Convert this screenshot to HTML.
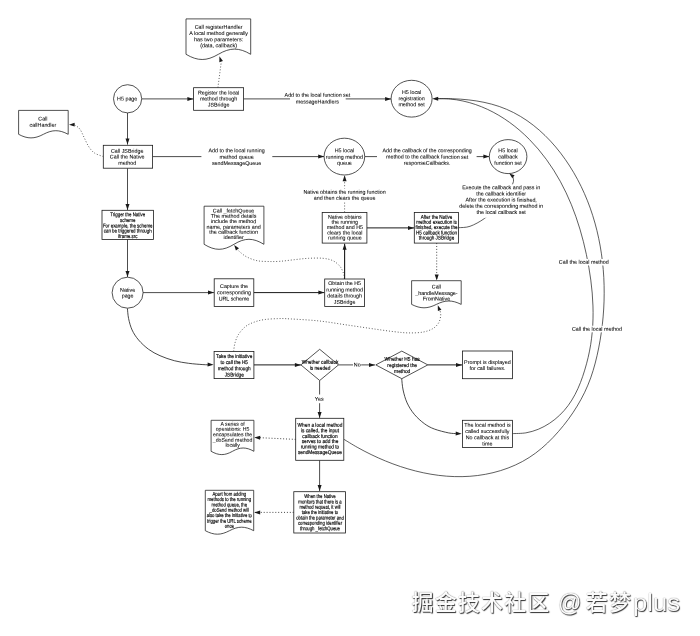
<!DOCTYPE html>
<html lang="en">
<head>
<meta charset="utf-8">
<title>JSBridge call flow</title>
<style>
html,body{margin:0;padding:0;background:#fff;}
body{width:700px;height:636px;overflow:hidden;position:relative;font-family:"Liberation Sans","Noto Sans CJK SC",sans-serif;}
svg{position:absolute;left:0;top:0;display:block;will-change:transform;filter:blur(0.25px);}
svg text{text-rendering:geometricPrecision;font-family:"Liberation Sans","Noto Sans CJK SC",sans-serif;}
.wm{will-change:transform;position:absolute;left:0;top:586.9px;width:700px;height:32px;font-size:22.0px;line-height:32px;white-space:nowrap;color:#fbfbfb;font-weight:500;
text-shadow:0 0 1px rgba(0,0,0,.6), 0.8px 0.8px 1px rgba(0,0,0,.8);}
.wm span{position:absolute;top:0;display:block;transform-origin:0 50%;}
</style>
</head>
<body>
<svg width="700" height="636" viewBox="0 0 700 636">
<path d="M512.60,433.60 C514.81,433.48 521.56,433.58 525.84,432.86 C530.12,432.14 534.30,430.87 538.27,429.27 C542.23,427.66 546.07,425.58 549.64,423.23 C553.22,420.88 556.62,418.11 559.72,415.14 C562.82,412.17 565.69,408.86 568.25,405.41 C570.81,401.96 573.05,398.24 575.08,394.42 C577.12,390.61 578.86,386.59 580.46,382.54 C582.07,378.49 583.44,374.29 584.71,370.11 C585.99,365.93 587.14,361.69 588.13,357.46 C589.12,353.22 589.97,348.96 590.66,344.69 C591.35,340.43 591.87,336.14 592.26,331.84 C592.65,327.55 592.89,323.24 593.01,318.93 C593.12,314.61 593.10,310.29 592.96,305.98 C592.83,301.66 592.57,297.33 592.21,293.02 C591.85,288.70 591.37,284.39 590.80,280.08 C590.24,275.78 589.57,271.48 588.83,267.20 C588.09,262.91 587.26,258.64 586.35,254.39 C585.45,250.14 584.47,245.90 583.41,241.69 C582.34,237.48 581.19,233.29 579.95,229.14 C578.71,224.99 577.38,220.87 575.95,216.79 C574.52,212.71 573.00,208.66 571.36,204.67 C569.73,200.67 567.99,196.72 566.14,192.82 C564.29,188.92 562.33,185.07 560.25,181.29 C558.17,177.50 555.97,173.77 553.65,170.11 C551.32,166.46 548.87,162.85 546.30,159.35 C543.73,155.85 541.03,152.41 538.22,149.10 C535.40,145.78 532.46,142.55 529.41,139.46 C526.36,136.37 523.18,133.38 519.90,130.55 C516.61,127.72 513.20,125.00 509.69,122.47 C506.18,119.93 502.55,117.53 498.83,115.34 C495.11,113.14 491.28,111.11 487.37,109.29 C483.47,107.48 479.46,105.85 475.40,104.47 C471.33,103.09 467.17,101.91 462.96,101.01 C458.75,100.10 454.47,99.42 450.14,99.04 C445.81,98.65 439.19,98.76 437.00,98.70" fill="none" stroke="#1a1a1a" stroke-width="0.7"/>
<path d="M343.90,439.30 C346.11,440.63 352.65,444.72 357.19,447.26 C361.72,449.79 366.37,452.24 371.09,454.53 C375.81,456.82 380.64,459.00 385.52,460.99 C390.40,462.99 395.36,464.86 400.37,466.52 C405.37,468.18 410.45,469.69 415.55,470.98 C420.65,472.26 425.80,473.37 430.96,474.23 C436.12,475.10 441.32,475.76 446.51,476.16 C451.70,476.56 456.92,476.74 462.10,476.64 C467.29,476.53 472.49,476.18 477.64,475.52 C482.79,474.86 487.95,473.94 493.02,472.69 C498.10,471.44 503.18,469.90 508.08,468.04 C512.97,466.18 517.82,464.01 522.40,461.52 C526.99,459.03 531.39,456.19 535.57,453.11 C539.76,450.03 543.70,446.60 547.50,443.02 C551.30,439.43 554.91,435.58 558.38,431.62 C561.85,427.66 565.20,423.51 568.33,419.26 C571.46,415.00 574.44,410.59 577.17,406.09 C579.89,401.59 582.44,396.95 584.69,392.25 C586.94,387.55 588.93,382.74 590.69,377.88 C592.45,373.02 593.89,368.07 595.23,363.08 C596.56,358.09 597.67,353.03 598.69,347.93 C599.70,342.84 600.58,337.68 601.32,332.51 C602.05,327.33 602.66,322.11 603.11,316.88 C603.57,311.65 603.88,306.38 604.05,301.12 C604.21,295.86 604.23,290.58 604.10,285.31 C603.97,280.05 603.68,274.77 603.24,269.53 C602.80,264.28 602.21,259.04 601.45,253.84 C600.69,248.64 599.78,243.46 598.70,238.33 C597.62,233.20 596.38,228.09 594.96,223.06 C593.55,218.03 591.97,213.03 590.22,208.12 C588.46,203.21 586.54,198.35 584.43,193.58 C582.33,188.81 580.05,184.11 577.59,179.51 C575.13,174.91 572.49,170.39 569.67,165.99 C566.84,161.60 563.83,157.27 560.63,153.12 C557.44,148.97 554.06,144.92 550.50,141.10 C546.94,137.28 543.20,133.59 539.29,130.18 C535.37,126.76 531.27,123.53 527.00,120.60 C522.73,117.68 518.29,114.98 513.67,112.62 C509.05,110.27 504.24,108.20 499.30,106.49 C494.36,104.77 489.19,103.42 484.01,102.32 C478.83,101.21 473.48,100.44 468.21,99.85 C462.94,99.25 457.58,98.93 452.38,98.72 C447.18,98.52 439.56,98.62 437.00,98.60" fill="none" stroke="#1a1a1a" stroke-width="0.7"/>
<path d="M432.20,98.70 L438.20,96.70 L438.20,100.70 Z" fill="#1a1a1a"/>
<path d="M142.00,98.90 L193.40,98.90" fill="none" stroke="#1a1a1a" stroke-width="0.78"/>
<path d="M193.40,98.90 L187.40,100.90 L187.40,96.90 Z" fill="#1a1a1a"/>
<path d="M217.90,87.60 L221.20,62.50" fill="none" stroke="#1a1a1a" stroke-width="0.7" stroke-dasharray="1 1.9"/>
<path d="M219.40,56.30 L222.96,61.02 L219.35,62.21 Z" fill="#1a1a1a"/>
<path d="M243.60,98.90 L391.10,98.90" fill="none" stroke="#1a1a1a" stroke-width="0.78"/>
<path d="M391.10,98.90 L385.10,100.90 L385.10,96.90 Z" fill="#1a1a1a"/>
<path d="M127.50,113.00 L127.50,144.60" fill="none" stroke="#1a1a1a" stroke-width="0.78"/>
<path d="M127.50,144.60 L125.50,138.60 L129.50,138.60 Z" fill="#1a1a1a"/>
<path d="M103.30,156.60 C101.80,155.98 96.75,154.60 94.30,152.90 C91.85,151.20 90.27,148.90 88.60,146.40 C86.93,143.90 85.73,140.75 84.30,137.90 C82.87,135.05 81.55,131.42 80.00,129.30 C78.45,127.18 76.33,125.97 75.00,125.20 C73.67,124.43 72.50,124.78 72.00,124.70" fill="none" stroke="#1a1a1a" stroke-width="0.7" stroke-dasharray="1 1.9"/>
<path d="M69.00,124.70 L74.60,122.80 L74.60,126.60 Z" fill="#1a1a1a"/>
<path d="M152.60,156.60 L324.20,156.60" fill="none" stroke="#1a1a1a" stroke-width="0.78"/>
<path d="M324.20,156.60 L318.20,158.60 L318.20,154.60 Z" fill="#1a1a1a"/>
<path d="M127.50,168.30 L127.50,210.00" fill="none" stroke="#1a1a1a" stroke-width="0.78"/>
<path d="M127.50,210.00 L125.50,204.00 L129.50,204.00 Z" fill="#1a1a1a"/>
<path d="M127.50,239.40 L127.50,277.00" fill="none" stroke="#1a1a1a" stroke-width="0.78"/>
<path d="M127.50,277.00 L125.50,271.00 L129.50,271.00 Z" fill="#1a1a1a"/>
<path d="M143.00,292.60 L214.00,292.60" fill="none" stroke="#1a1a1a" stroke-width="0.78"/>
<path d="M214.00,292.60 L208.00,294.60 L208.00,290.60 Z" fill="#1a1a1a"/>
<path d="M253.70,292.60 L324.40,292.60" fill="none" stroke="#1a1a1a" stroke-width="1.0"/>
<path d="M324.40,292.60 L318.40,294.60 L318.40,290.60 Z" fill="#1a1a1a"/>
<path d="M344.60,278.90 L344.60,243.80" fill="none" stroke="#1a1a1a" stroke-width="1.1"/>
<path d="M344.60,243.80 L346.60,249.80 L342.60,249.80 Z" fill="#1a1a1a"/>
<path d="M344.30,278.60 C344.18,277.77 344.32,275.63 343.60,273.60 C342.88,271.57 341.78,268.55 340.00,266.40 C338.22,264.25 335.75,262.05 332.90,260.70 C330.05,259.35 326.95,258.70 322.90,258.30 C318.85,257.90 313.37,258.07 308.60,258.30 C303.83,258.53 299.07,259.20 294.30,259.70 C289.53,260.20 284.38,261.00 280.00,261.30 C275.62,261.60 271.82,261.60 268.00,261.50 C264.18,261.40 260.58,261.43 257.10,260.70 C253.62,259.97 249.87,258.47 247.10,257.10 C244.33,255.73 242.10,253.77 240.50,252.50 C238.90,251.23 238.00,250.00 237.50,249.50" fill="none" stroke="#1a1a1a" stroke-width="0.7" stroke-dasharray="1 1.9"/>
<path d="M234.20,244.90 L239.01,248.33 L235.93,250.55 Z" fill="#1a1a1a"/>
<path d="M344.60,212.30 L344.60,175.30" fill="none" stroke="#1a1a1a" stroke-width="0.7" stroke-dasharray="1 1.9"/>
<path d="M344.60,175.30 L346.60,181.30 L342.60,181.30 Z" fill="#1a1a1a"/>
<path d="M366.90,227.90 L414.00,227.90" fill="none" stroke="#1a1a1a" stroke-width="1.0"/>
<path d="M414.00,227.90 L408.00,229.90 L408.00,225.90 Z" fill="#1a1a1a"/>
<path d="M436.70,243.10 L436.70,280.50" fill="none" stroke="#1a1a1a" stroke-width="0.8" stroke-dasharray="1 1.9"/>
<path d="M436.70,280.50 L434.70,274.50 L438.70,274.50 Z" fill="#1a1a1a"/>
<path d="M458.60,227.70 C460.50,227.47 465.72,227.82 470.00,226.30 C474.28,224.78 479.80,221.82 484.30,218.60 C488.80,215.38 493.22,211.10 497.00,207.00 C500.78,202.90 504.33,198.00 507.00,194.00 C509.67,190.00 511.97,185.67 513.00,183.00 C514.03,180.33 513.28,179.08 513.20,178.00 C513.12,176.92 512.62,176.75 512.50,176.50" fill="none" stroke="#1a1a1a" stroke-width="0.7"/>
<path d="M509.30,173.60 L514.60,175.20 L512.32,178.24 Z" fill="#1a1a1a"/>
<path d="M364.60,156.60 L489.40,156.60" fill="none" stroke="#1a1a1a" stroke-width="0.78"/>
<path d="M489.40,156.60 L483.40,158.60 L483.40,154.60 Z" fill="#1a1a1a"/>
<path d="M127.40,308.30 C127.60,310.02 127.82,314.98 128.60,318.60 C129.38,322.22 130.43,326.43 132.10,330.00 C133.77,333.57 135.85,336.78 138.60,340.00 C141.35,343.22 145.03,346.68 148.60,349.30 C152.17,351.92 155.72,353.80 160.00,355.70 C164.28,357.60 169.53,359.43 174.30,360.70 C179.07,361.97 183.83,362.65 188.60,363.30 C193.37,363.95 199.33,364.35 202.90,364.60 C206.47,364.85 208.82,364.77 210.00,364.80" fill="none" stroke="#1a1a1a" stroke-width="0.8"/>
<path d="M213.60,364.80 L207.54,366.62 L207.66,362.62 Z" fill="#1a1a1a"/>
<path d="M233.60,351.40 C233.83,349.98 234.17,345.75 235.00,342.90 C235.83,340.05 236.82,337.05 238.60,334.30 C240.38,331.55 243.08,328.43 245.70,326.40 C248.32,324.37 251.20,323.23 254.30,322.10 C257.40,320.97 260.25,320.18 264.30,319.60 C268.35,319.02 274.32,318.72 278.60,318.60 C282.88,318.48 283.33,318.52 290.00,318.90 C296.67,319.28 309.08,319.88 318.60,320.90 C328.12,321.92 337.58,323.62 347.10,325.00 C356.62,326.38 367.83,328.08 375.70,329.20 C383.57,330.32 388.82,331.08 394.30,331.70 C399.78,332.32 403.83,332.83 408.60,332.90 C413.37,332.97 418.85,332.82 422.90,332.10 C426.95,331.38 430.28,330.13 432.90,328.60 C435.52,327.07 437.30,325.05 438.60,322.90 C439.90,320.75 440.47,317.77 440.70,315.70 C440.93,313.63 440.12,311.37 440.00,310.50" fill="none" stroke="#1a1a1a" stroke-width="0.7" stroke-dasharray="1 1.9"/>
<path d="M437.80,305.20 L441.44,309.86 L437.86,311.11 Z" fill="#1a1a1a"/>
<path d="M253.90,364.90 L300.90,364.90" fill="none" stroke="#1a1a1a" stroke-width="1.0"/>
<path d="M300.90,364.90 L294.90,366.90 L294.90,362.90 Z" fill="#1a1a1a"/>
<path d="M338.40,364.90 L375.00,364.90" fill="none" stroke="#1a1a1a" stroke-width="0.78"/>
<path d="M375.00,364.90 L369.00,366.90 L369.00,362.90 Z" fill="#1a1a1a"/>
<path d="M319.60,380.40 L319.60,417.90" fill="none" stroke="#1a1a1a" stroke-width="0.78"/>
<path d="M319.60,417.90 L317.60,411.90 L321.60,411.90 Z" fill="#1a1a1a"/>
<path d="M427.70,364.90 L462.00,364.90" fill="none" stroke="#1a1a1a" stroke-width="1.0"/>
<path d="M462.00,364.90 L456.00,366.90 L456.00,362.90 Z" fill="#1a1a1a"/>
<path d="M401.70,378.60 C401.93,380.50 402.20,385.95 403.10,390.00 C404.00,394.05 405.23,398.85 407.10,402.90 C408.97,406.95 411.43,410.85 414.30,414.30 C417.17,417.75 420.97,421.15 424.30,423.60 C427.63,426.05 430.25,427.45 434.30,429.00 C438.35,430.55 444.82,432.13 448.60,432.90 C452.38,433.67 455.60,433.48 457.00,433.60" fill="none" stroke="#1a1a1a" stroke-width="0.8"/>
<path d="M461.70,433.70 L455.64,435.52 L455.76,431.52 Z" fill="#1a1a1a"/>
<path d="M295.70,439.40 L260.00,437.70" fill="none" stroke="#1a1a1a" stroke-width="0.8" stroke-dasharray="1 1.9"/>
<path d="M254.20,437.40 L260.28,435.64 L260.12,439.64 Z" fill="#1a1a1a"/>
<path d="M319.60,460.30 L319.60,491.00" fill="none" stroke="#1a1a1a" stroke-width="0.78"/>
<path d="M319.60,491.00 L317.60,485.00 L321.60,485.00 Z" fill="#1a1a1a"/>
<path d="M293.70,512.40 L254.20,512.40" fill="none" stroke="#1a1a1a" stroke-width="0.8" stroke-dasharray="1 1.9"/>
<path d="M254.20,512.40 L260.20,510.40 L260.20,514.40 Z" fill="#1a1a1a"/>
<circle cx="127.60" cy="98.80" r="14.10" fill="#fff" stroke="#1a1a1a" stroke-width="0.75"/>
<path d="M186.00,54.30 V18.90 H250.70 V54.30 C238.92,47.37 230.13,47.37 218.35,54.30 C206.57,61.23 197.78,61.23 186.00,54.30 Z" fill="#fff" stroke="#1a1a1a" stroke-width="0.75"/>
<rect x="193.60" y="87.70" width="50.00" height="22.60" fill="#fff" stroke="#1a1a1a" stroke-width="0.8"/>
<ellipse cx="411.60" cy="98.70" rx="20.50" ry="18.40" fill="#fff" stroke="#1a1a1a" stroke-width="0.75"/>
<path d="M18.60,134.30 V110.40 H68.20 V134.30 C59.17,129.50 52.43,129.50 43.40,134.30 C34.37,139.10 27.63,139.10 18.60,134.30 Z" fill="#fff" stroke="#1a1a1a" stroke-width="0.75"/>
<rect x="103.30" y="145.30" width="49.30" height="22.90" fill="#fff" stroke="#1a1a1a" stroke-width="0.8"/>
<ellipse cx="344.40" cy="156.60" rx="20.30" ry="18.40" fill="#fff" stroke="#1a1a1a" stroke-width="0.75"/>
<ellipse cx="508.10" cy="156.60" rx="18.80" ry="17.00" fill="#fff" stroke="#1a1a1a" stroke-width="0.75"/>
<rect x="102.00" y="210.30" width="51.40" height="29.10" fill="#fff" stroke="#1a1a1a" stroke-width="0.8"/>
<path d="M204.10,244.30 V206.20 H263.90 V244.30 C253.01,237.63 244.89,237.63 234.00,244.30 C223.11,250.97 214.99,250.97 204.10,244.30 Z" fill="#fff" stroke="#1a1a1a" stroke-width="0.75"/>
<rect x="322.20" y="212.40" width="44.70" height="30.70" fill="#fff" stroke="#1a1a1a" stroke-width="0.8"/>
<rect x="414.30" y="212.40" width="44.30" height="30.70" fill="#fff" stroke="#1a1a1a" stroke-width="0.8"/>
<circle cx="127.60" cy="292.70" r="15.50" fill="#fff" stroke="#1a1a1a" stroke-width="0.75"/>
<rect x="214.20" y="278.80" width="39.60" height="27.60" fill="#fff" stroke="#1a1a1a" stroke-width="0.8"/>
<rect x="324.70" y="279.00" width="39.90" height="27.40" fill="#fff" stroke="#1a1a1a" stroke-width="0.8"/>
<path d="M411.60,304.40 V280.70 H461.20 V304.40 C452.17,299.87 445.43,299.87 436.40,304.40 C427.37,308.93 420.63,308.93 411.60,304.40 Z" fill="#fff" stroke="#1a1a1a" stroke-width="0.75"/>
<rect x="214.10" y="351.40" width="39.80" height="27.20" fill="#fff" stroke="#1a1a1a" stroke-width="0.8"/>
<path d="M300.90,364.90 L319.70,349.30 L338.50,364.90 L319.70,380.50 Z" fill="#fff" stroke="#1a1a1a" stroke-width="0.75"/>
<path d="M375.80,364.90 L401.80,351.10 L427.80,364.90 L401.80,378.70 Z" fill="#fff" stroke="#1a1a1a" stroke-width="0.75"/>
<rect x="462.50" y="351.00" width="50.10" height="27.70" fill="#fff" stroke="#1a1a1a" stroke-width="0.8"/>
<rect x="462.40" y="420.30" width="50.20" height="27.20" fill="#fff" stroke="#1a1a1a" stroke-width="0.8"/>
<path d="M211.10,451.30 V420.30 H253.90 V451.30 C246.11,446.90 240.29,446.90 232.50,451.30 C224.71,455.70 218.89,455.70 211.10,451.30 Z" fill="#fff" stroke="#1a1a1a" stroke-width="0.75"/>
<rect x="295.70" y="418.30" width="48.10" height="42.00" fill="#fff" stroke="#1a1a1a" stroke-width="0.8"/>
<path d="M205.30,530.70 V490.30 H253.70 V530.70 C244.89,526.03 238.31,526.03 229.50,530.70 C220.69,535.37 214.11,535.37 205.30,530.70 Z" fill="#fff" stroke="#1a1a1a" stroke-width="0.75"/>
<rect x="293.80" y="491.70" width="51.70" height="41.30" fill="#fff" stroke="#1a1a1a" stroke-width="0.8"/>
<text transform="translate(127.20,100.61) rotate(0.05) scale(1.000,1)" font-size="5.35" text-anchor="middle" fill="#000" stroke="#000" stroke-width="0.06">H5 page</text>
<text transform="translate(218.60,28.81) rotate(0.05) scale(1.012,1)" font-size="5.35" text-anchor="middle" fill="#000" stroke="#000" stroke-width="0.06">Call registerHandler</text>
<text transform="translate(218.60,34.91) rotate(0.05) scale(1.012,1)" font-size="5.35" text-anchor="middle" fill="#000" stroke="#000" stroke-width="0.06">A local method generally</text>
<text transform="translate(218.60,41.21) rotate(0.05) scale(1.012,1)" font-size="5.35" text-anchor="middle" fill="#000" stroke="#000" stroke-width="0.06">has two parameters:</text>
<text transform="translate(218.60,47.21) rotate(0.05) scale(1.012,1)" font-size="5.35" text-anchor="middle" fill="#000" stroke="#000" stroke-width="0.06">(data, callback)</text>
<text transform="translate(218.60,94.61) rotate(0.05) scale(1.000,1)" font-size="5.35" text-anchor="middle" fill="#000" stroke="#000" stroke-width="0.06">Register the local</text>
<text transform="translate(218.60,100.61) rotate(0.05) scale(1.000,1)" font-size="5.35" text-anchor="middle" fill="#000" stroke="#000" stroke-width="0.06">method through</text>
<text transform="translate(218.60,106.61) rotate(0.05) scale(1.000,1)" font-size="5.35" text-anchor="middle" fill="#000" stroke="#000" stroke-width="0.06">JSBridge</text>
<rect x="290.00" y="92.00" width="55.70" height="13.00" fill="#fff"/>
<text transform="translate(317.40,96.81) rotate(0.05) scale(1.000,1)" font-size="5.35" text-anchor="middle" fill="#000" stroke="#000" stroke-width="0.06">Add to the local function set</text>
<text transform="translate(317.40,103.41) rotate(0.05) scale(1.000,1)" font-size="5.35" text-anchor="middle" fill="#000" stroke="#000" stroke-width="0.06">messageHandlers</text>
<text transform="translate(411.60,94.11) rotate(0.05) scale(1.000,1)" font-size="5.35" text-anchor="middle" fill="#000" stroke="#000" stroke-width="0.06">H5 local</text>
<text transform="translate(411.60,100.31) rotate(0.05) scale(1.000,1)" font-size="5.35" text-anchor="middle" fill="#000" stroke="#000" stroke-width="0.06">registration</text>
<text transform="translate(411.60,106.31) rotate(0.05) scale(1.000,1)" font-size="5.35" text-anchor="middle" fill="#000" stroke="#000" stroke-width="0.06">method set</text>
<text transform="translate(42.90,120.61) rotate(0.05) scale(1.000,1)" font-size="5.35" text-anchor="middle" fill="#000" stroke="#000" stroke-width="0.06">Call</text>
<text transform="translate(42.90,126.81) rotate(0.05) scale(1.000,1)" font-size="5.35" text-anchor="middle" fill="#000" stroke="#000" stroke-width="0.06">callHandler</text>
<text transform="translate(127.20,152.71) rotate(0.05) scale(1.000,1)" font-size="5.35" text-anchor="middle" fill="#000" stroke="#000" stroke-width="0.06">Call JSBridge</text>
<text transform="translate(127.20,158.61) rotate(0.05) scale(1.000,1)" font-size="5.35" text-anchor="middle" fill="#000" stroke="#000" stroke-width="0.06">Call the Native</text>
<text transform="translate(127.20,164.81) rotate(0.05) scale(1.000,1)" font-size="5.35" text-anchor="middle" fill="#000" stroke="#000" stroke-width="0.06">method</text>
<rect x="201.40" y="147.00" width="70.90" height="20.00" fill="#fff"/>
<text transform="translate(236.60,152.31) rotate(0.05) scale(1.000,1)" font-size="5.35" text-anchor="middle" fill="#000" stroke="#000" stroke-width="0.06">Add to the local running</text>
<text transform="translate(236.60,158.71) rotate(0.05) scale(1.000,1)" font-size="5.35" text-anchor="middle" fill="#000" stroke="#000" stroke-width="0.06">method queue</text>
<text transform="translate(236.60,165.01) rotate(0.05) scale(1.000,1)" font-size="5.35" text-anchor="middle" fill="#000" stroke="#000" stroke-width="0.06">sendMessageQueue</text>
<text transform="translate(344.40,152.31) rotate(0.05) scale(1.000,1)" font-size="5.35" text-anchor="middle" fill="#000" stroke="#000" stroke-width="0.06">H5 local</text>
<text transform="translate(344.40,158.71) rotate(0.05) scale(1.000,1)" font-size="5.35" text-anchor="middle" fill="#000" stroke="#000" stroke-width="0.06">running method</text>
<text transform="translate(344.40,164.81) rotate(0.05) scale(1.000,1)" font-size="5.35" text-anchor="middle" fill="#000" stroke="#000" stroke-width="0.06">queue</text>
<rect x="377.00" y="147.00" width="99.60" height="20.00" fill="#fff"/>
<text transform="translate(427.10,152.31) rotate(0.05) scale(1.000,1)" font-size="5.35" text-anchor="middle" fill="#000" stroke="#000" stroke-width="0.06">Add the callback of the corresponding</text>
<text transform="translate(427.10,158.61) rotate(0.05) scale(1.000,1)" font-size="5.35" text-anchor="middle" fill="#000" stroke="#000" stroke-width="0.06">method to the callback function set</text>
<text transform="translate(427.10,164.81) rotate(0.05) scale(1.000,1)" font-size="5.35" text-anchor="middle" fill="#000" stroke="#000" stroke-width="0.06">responseCallbacks.</text>
<text transform="translate(508.00,152.31) rotate(0.05) scale(1.000,1)" font-size="5.35" text-anchor="middle" fill="#000" stroke="#000" stroke-width="0.06">H5 local</text>
<text transform="translate(508.00,158.61) rotate(0.05) scale(1.000,1)" font-size="5.35" text-anchor="middle" fill="#000" stroke="#000" stroke-width="0.06">callback</text>
<text transform="translate(508.00,164.81) rotate(0.05) scale(1.000,1)" font-size="5.35" text-anchor="middle" fill="#000" stroke="#000" stroke-width="0.06">function set</text>
<rect x="303.00" y="188.50" width="83.00" height="13.00" fill="#fff"/>
<text transform="translate(344.60,193.71) rotate(0.05) scale(1.000,1)" font-size="5.35" text-anchor="middle" fill="#000" stroke="#000" stroke-width="0.06">Native obtains the running function</text>
<text transform="translate(344.60,199.81) rotate(0.05) scale(1.000,1)" font-size="5.35" text-anchor="middle" fill="#000" stroke="#000" stroke-width="0.06">and then clears the queue</text>
<text transform="translate(344.80,218.71) rotate(0.05) scale(0.990,1)" font-size="5.35" text-anchor="middle" fill="#000" stroke="#000" stroke-width="0.06">Native obtains</text>
<text transform="translate(344.80,223.81) rotate(0.05) scale(0.990,1)" font-size="5.35" text-anchor="middle" fill="#000" stroke="#000" stroke-width="0.06">the running</text>
<text transform="translate(344.80,228.91) rotate(0.05) scale(0.990,1)" font-size="5.35" text-anchor="middle" fill="#000" stroke="#000" stroke-width="0.06">method and H5</text>
<text transform="translate(344.80,234.51) rotate(0.05) scale(0.990,1)" font-size="5.35" text-anchor="middle" fill="#000" stroke="#000" stroke-width="0.06">clears the local</text>
<text transform="translate(344.80,239.61) rotate(0.05) scale(0.990,1)" font-size="5.35" text-anchor="middle" fill="#000" stroke="#000" stroke-width="0.06">running queue</text>
<text transform="translate(436.50,218.71) rotate(0.05) scale(0.856,1)" font-size="5.35" text-anchor="middle" fill="#000" stroke="#000" stroke-width="0.16">After the Native</text>
<text transform="translate(436.50,223.81) rotate(0.05) scale(0.856,1)" font-size="5.35" text-anchor="middle" fill="#000" stroke="#000" stroke-width="0.16">method execution is</text>
<text transform="translate(436.50,228.91) rotate(0.05) scale(0.856,1)" font-size="5.35" text-anchor="middle" fill="#000" stroke="#000" stroke-width="0.16">finished, execute the</text>
<text transform="translate(436.50,234.51) rotate(0.05) scale(0.856,1)" font-size="5.35" text-anchor="middle" fill="#000" stroke="#000" stroke-width="0.16">H5 callback function</text>
<text transform="translate(436.50,239.61) rotate(0.05) scale(0.856,1)" font-size="5.35" text-anchor="middle" fill="#000" stroke="#000" stroke-width="0.16">through JSBridge</text>
<rect x="459.00" y="184.30" width="84.00" height="33.50" fill="#fff"/>
<text transform="translate(501.20,189.21) rotate(0.05) scale(1.000,1)" font-size="5.35" text-anchor="middle" fill="#000" stroke="#000" stroke-width="0.06">Execute the callback and pass in</text>
<text transform="translate(501.20,195.51) rotate(0.05) scale(1.000,1)" font-size="5.35" text-anchor="middle" fill="#000" stroke="#000" stroke-width="0.06">the callback identifier</text>
<text transform="translate(501.20,201.61) rotate(0.05) scale(1.000,1)" font-size="5.35" text-anchor="middle" fill="#000" stroke="#000" stroke-width="0.06">After the execution is finished,</text>
<text transform="translate(501.20,207.71) rotate(0.05) scale(1.000,1)" font-size="5.35" text-anchor="middle" fill="#000" stroke="#000" stroke-width="0.06">delete the corresponding method in</text>
<text transform="translate(501.20,213.91) rotate(0.05) scale(1.000,1)" font-size="5.35" text-anchor="middle" fill="#000" stroke="#000" stroke-width="0.06">the local callback set</text>
<text transform="translate(127.70,216.31) rotate(0.05) scale(0.823,1)" font-size="5.35" text-anchor="middle" fill="#000" stroke="#000" stroke-width="0.16">Trigger the Native</text>
<text transform="translate(127.70,222.01) rotate(0.05) scale(0.823,1)" font-size="5.35" text-anchor="middle" fill="#000" stroke="#000" stroke-width="0.16">scheme</text>
<text transform="translate(127.70,227.41) rotate(0.05) scale(0.823,1)" font-size="5.35" text-anchor="middle" fill="#000" stroke="#000" stroke-width="0.16">For example, the scheme</text>
<text transform="translate(127.70,232.61) rotate(0.05) scale(0.823,1)" font-size="5.35" text-anchor="middle" fill="#000" stroke="#000" stroke-width="0.16">can be triggered through</text>
<text transform="translate(127.70,238.01) rotate(0.05) scale(0.823,1)" font-size="5.35" text-anchor="middle" fill="#000" stroke="#000" stroke-width="0.16">iframe.src</text>
<text transform="translate(233.60,212.41) rotate(0.05) scale(1.005,1)" font-size="5.35" text-anchor="middle" fill="#000" stroke="#000" stroke-width="0.06">Call _fetchQueue</text>
<text transform="translate(233.60,217.81) rotate(0.05) scale(1.005,1)" font-size="5.35" text-anchor="middle" fill="#000" stroke="#000" stroke-width="0.06">The method details</text>
<text transform="translate(233.60,223.11) rotate(0.05) scale(1.005,1)" font-size="5.35" text-anchor="middle" fill="#000" stroke="#000" stroke-width="0.06">include the method</text>
<text transform="translate(233.60,228.71) rotate(0.05) scale(1.005,1)" font-size="5.35" text-anchor="middle" fill="#000" stroke="#000" stroke-width="0.06">name, parameters and</text>
<text transform="translate(233.60,233.81) rotate(0.05) scale(1.005,1)" font-size="5.35" text-anchor="middle" fill="#000" stroke="#000" stroke-width="0.06">the callback function</text>
<text transform="translate(233.60,239.11) rotate(0.05) scale(1.005,1)" font-size="5.35" text-anchor="middle" fill="#000" stroke="#000" stroke-width="0.06">identifier</text>
<text transform="translate(127.60,291.71) rotate(0.05) scale(1.000,1)" font-size="5.35" text-anchor="middle" fill="#000" stroke="#000" stroke-width="0.06">Native</text>
<text transform="translate(127.60,297.41) rotate(0.05) scale(1.000,1)" font-size="5.35" text-anchor="middle" fill="#000" stroke="#000" stroke-width="0.06">page</text>
<text transform="translate(234.00,288.01) rotate(0.05) scale(1.000,1)" font-size="5.35" text-anchor="middle" fill="#000" stroke="#000" stroke-width="0.06">Capture the</text>
<text transform="translate(234.00,294.31) rotate(0.05) scale(1.000,1)" font-size="5.35" text-anchor="middle" fill="#000" stroke="#000" stroke-width="0.06">corresponding</text>
<text transform="translate(234.00,300.61) rotate(0.05) scale(1.000,1)" font-size="5.35" text-anchor="middle" fill="#000" stroke="#000" stroke-width="0.06">URL scheme</text>
<text transform="translate(344.60,285.01) rotate(0.05) scale(0.993,1)" font-size="5.35" text-anchor="middle" fill="#000" stroke="#000" stroke-width="0.06">Obtain the H5</text>
<text transform="translate(344.60,291.41) rotate(0.05) scale(0.993,1)" font-size="5.35" text-anchor="middle" fill="#000" stroke="#000" stroke-width="0.06">running method</text>
<text transform="translate(344.60,297.61) rotate(0.05) scale(0.993,1)" font-size="5.35" text-anchor="middle" fill="#000" stroke="#000" stroke-width="0.06">details through</text>
<text transform="translate(344.60,303.71) rotate(0.05) scale(0.993,1)" font-size="5.35" text-anchor="middle" fill="#000" stroke="#000" stroke-width="0.06">JSBridge</text>
<text transform="translate(436.40,288.41) rotate(0.05) scale(0.997,1)" font-size="5.35" text-anchor="middle" fill="#000" stroke="#000" stroke-width="0.06">Call</text>
<text transform="translate(436.40,294.91) rotate(0.05) scale(0.997,1)" font-size="5.35" text-anchor="middle" fill="#000" stroke="#000" stroke-width="0.06">_handleMessage-</text>
<text transform="translate(436.40,300.61) rotate(0.05) scale(0.997,1)" font-size="5.35" text-anchor="middle" fill="#000" stroke="#000" stroke-width="0.06">FromNative</text>
<text transform="translate(234.20,357.91) rotate(0.05) scale(0.882,1)" font-size="5.35" text-anchor="middle" fill="#000" stroke="#000" stroke-width="0.16">Take the initiative</text>
<text transform="translate(234.20,364.11) rotate(0.05) scale(0.882,1)" font-size="5.35" text-anchor="middle" fill="#000" stroke="#000" stroke-width="0.16">to call the H5</text>
<text transform="translate(234.20,370.31) rotate(0.05) scale(0.882,1)" font-size="5.35" text-anchor="middle" fill="#000" stroke="#000" stroke-width="0.16">method through</text>
<text transform="translate(234.20,376.61) rotate(0.05) scale(0.882,1)" font-size="5.35" text-anchor="middle" fill="#000" stroke="#000" stroke-width="0.16">JSBridge</text>
<text transform="translate(320.00,363.71) rotate(0.05) scale(0.892,1)" font-size="5.35" text-anchor="middle" fill="#000" stroke="#000" stroke-width="0.16">Whether callback</text>
<text transform="translate(320.00,369.81) rotate(0.05) scale(0.892,1)" font-size="5.35" text-anchor="middle" fill="#000" stroke="#000" stroke-width="0.16">is needed</text>
<rect x="353.00" y="361.50" width="8.20" height="7.00" fill="#fff"/>
<text transform="translate(357.20,366.61) rotate(0.05) scale(1.000,1)" font-size="5.35" text-anchor="middle" fill="#000" stroke="#000" stroke-width="0.06">No</text>
<rect x="314.00" y="394.50" width="11.00" height="8.70" fill="#fff"/>
<text transform="translate(319.20,400.71) rotate(0.05) scale(1.000,1)" font-size="5.35" text-anchor="middle" fill="#000" stroke="#000" stroke-width="0.06">Yes</text>
<text transform="translate(402.20,360.71) rotate(0.05) scale(0.911,1)" font-size="5.35" text-anchor="middle" fill="#000" stroke="#000" stroke-width="0.16">Whether H5 has</text>
<text transform="translate(402.20,367.01) rotate(0.05) scale(0.911,1)" font-size="5.35" text-anchor="middle" fill="#000" stroke="#000" stroke-width="0.16">registered the</text>
<text transform="translate(402.20,372.91) rotate(0.05) scale(0.911,1)" font-size="5.35" text-anchor="middle" fill="#000" stroke="#000" stroke-width="0.16">method</text>
<text transform="translate(487.40,364.01) rotate(0.05) scale(1.000,1)" font-size="5.35" text-anchor="middle" fill="#000" stroke="#000" stroke-width="0.06">Prompt is displayed</text>
<text transform="translate(487.40,370.01) rotate(0.05) scale(1.000,1)" font-size="5.35" text-anchor="middle" fill="#000" stroke="#000" stroke-width="0.06">for call failures.</text>
<text transform="translate(487.40,426.71) rotate(0.05) scale(1.000,1)" font-size="5.35" text-anchor="middle" fill="#000" stroke="#000" stroke-width="0.06">The local method is</text>
<text transform="translate(487.40,433.11) rotate(0.05) scale(1.000,1)" font-size="5.35" text-anchor="middle" fill="#000" stroke="#000" stroke-width="0.06">called successfully</text>
<text transform="translate(487.40,439.31) rotate(0.05) scale(1.000,1)" font-size="5.35" text-anchor="middle" fill="#000" stroke="#000" stroke-width="0.06">No callback at this</text>
<text transform="translate(487.40,445.61) rotate(0.05) scale(1.000,1)" font-size="5.35" text-anchor="middle" fill="#000" stroke="#000" stroke-width="0.06">time</text>
<text transform="translate(232.60,425.71) rotate(0.05) scale(0.972,1)" font-size="5.35" text-anchor="middle" fill="#000" stroke="#000" stroke-width="0.06">A series of</text>
<text transform="translate(232.60,430.81) rotate(0.05) scale(0.972,1)" font-size="5.35" text-anchor="middle" fill="#000" stroke="#000" stroke-width="0.06">operations: H5</text>
<text transform="translate(232.60,436.31) rotate(0.05) scale(0.972,1)" font-size="5.35" text-anchor="middle" fill="#000" stroke="#000" stroke-width="0.06">encapsulates the</text>
<text transform="translate(232.60,441.71) rotate(0.05) scale(0.972,1)" font-size="5.35" text-anchor="middle" fill="#000" stroke="#000" stroke-width="0.06">_doSend method</text>
<text transform="translate(232.60,446.71) rotate(0.05) scale(0.972,1)" font-size="5.35" text-anchor="middle" fill="#000" stroke="#000" stroke-width="0.06">locally</text>
<text transform="translate(320.00,426.81) rotate(0.05) scale(0.893,1)" font-size="5.35" text-anchor="middle" fill="#000" stroke="#000" stroke-width="0.16">When a local method</text>
<text transform="translate(320.00,432.31) rotate(0.05) scale(0.893,1)" font-size="5.35" text-anchor="middle" fill="#000" stroke="#000" stroke-width="0.16">is called, the input</text>
<text transform="translate(320.00,438.01) rotate(0.05) scale(0.893,1)" font-size="5.35" text-anchor="middle" fill="#000" stroke="#000" stroke-width="0.16">callback function</text>
<text transform="translate(320.00,443.11) rotate(0.05) scale(0.893,1)" font-size="5.35" text-anchor="middle" fill="#000" stroke="#000" stroke-width="0.16">serves to add the</text>
<text transform="translate(320.00,448.61) rotate(0.05) scale(0.893,1)" font-size="5.35" text-anchor="middle" fill="#000" stroke="#000" stroke-width="0.16">running method to</text>
<text transform="translate(320.00,454.01) rotate(0.05) scale(0.893,1)" font-size="5.35" text-anchor="middle" fill="#000" stroke="#000" stroke-width="0.16">sendMessageQueue</text>
<text transform="translate(229.30,495.71) rotate(0.05) scale(0.795,1)" font-size="5.35" text-anchor="middle" fill="#000" stroke="#000" stroke-width="0.16">Apart from adding</text>
<text transform="translate(229.30,501.01) rotate(0.05) scale(0.795,1)" font-size="5.35" text-anchor="middle" fill="#000" stroke="#000" stroke-width="0.16">methods to the running</text>
<text transform="translate(229.30,506.41) rotate(0.05) scale(0.795,1)" font-size="5.35" text-anchor="middle" fill="#000" stroke="#000" stroke-width="0.16">method queue, the</text>
<text transform="translate(229.30,511.71) rotate(0.05) scale(0.795,1)" font-size="5.35" text-anchor="middle" fill="#000" stroke="#000" stroke-width="0.16">_doSend method will</text>
<text transform="translate(229.30,517.11) rotate(0.05) scale(0.795,1)" font-size="5.35" text-anchor="middle" fill="#000" stroke="#000" stroke-width="0.16">also take the initiative to</text>
<text transform="translate(229.30,522.71) rotate(0.05) scale(0.795,1)" font-size="5.35" text-anchor="middle" fill="#000" stroke="#000" stroke-width="0.16">trigger the URL scheme</text>
<text transform="translate(229.30,527.81) rotate(0.05) scale(0.795,1)" font-size="5.35" text-anchor="middle" fill="#000" stroke="#000" stroke-width="0.16">once</text>
<text transform="translate(320.00,498.11) rotate(0.05) scale(0.796,1)" font-size="5.35" text-anchor="middle" fill="#000" stroke="#000" stroke-width="0.16">When the Native</text>
<text transform="translate(320.00,503.41) rotate(0.05) scale(0.796,1)" font-size="5.35" text-anchor="middle" fill="#000" stroke="#000" stroke-width="0.16">monitors that there is a</text>
<text transform="translate(320.00,508.81) rotate(0.05) scale(0.796,1)" font-size="5.35" text-anchor="middle" fill="#000" stroke="#000" stroke-width="0.16">method request, it will</text>
<text transform="translate(320.00,514.11) rotate(0.05) scale(0.796,1)" font-size="5.35" text-anchor="middle" fill="#000" stroke="#000" stroke-width="0.16">take the initiative to</text>
<text transform="translate(320.00,519.61) rotate(0.05) scale(0.796,1)" font-size="5.35" text-anchor="middle" fill="#000" stroke="#000" stroke-width="0.16">obtain the parameter and</text>
<text transform="translate(320.00,524.81) rotate(0.05) scale(0.796,1)" font-size="5.35" text-anchor="middle" fill="#000" stroke="#000" stroke-width="0.16">corresponding identifier</text>
<text transform="translate(320.00,530.31) rotate(0.05) scale(0.796,1)" font-size="5.35" text-anchor="middle" fill="#000" stroke="#000" stroke-width="0.16">through _fetchQueue</text>
<rect x="559.00" y="259.00" width="50.00" height="6.50" fill="#fff"/>
<text transform="translate(583.80,263.71) rotate(0.05) scale(1.000,1)" font-size="5.35" text-anchor="middle" fill="#000" stroke="#000" stroke-width="0.06">Call the local method</text>
<rect x="572.00" y="325.80" width="50.00" height="6.50" fill="#fff"/>
<text transform="translate(596.90,330.71) rotate(0.05) scale(1.000,1)" font-size="5.35" text-anchor="middle" fill="#000" stroke="#000" stroke-width="0.06">Call the local method</text>
</svg>
<div class="wm"><span style="left:411.6px;letter-spacing:1.15px">掘金技术社区</span><span style="left:558.0px;font-size:23.1px;font-weight:400"> @ </span><span style="left:585.8px;letter-spacing:1.15px">若梦</span><span style="left:633.2px;font-size:24.2px;font-weight:400;transform:scaleX(1.06)">plus</span></div>
</body>
</html>
